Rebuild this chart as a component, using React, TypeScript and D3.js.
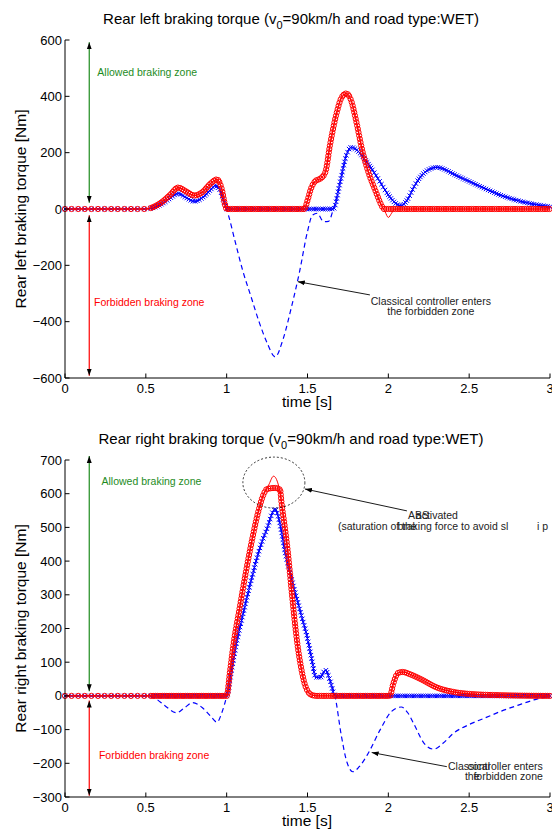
import React, { useRef, useEffect } from 'react';
import * as d3 from 'd3';

type Pt = [number, number];

// ---- rear left (top panel) ----
const classicalLeft: Pt[] = [
  [0, 0], [0.5, 0], [0.55, 5], [0.6, 18], [0.65, 38], [0.7, 55], [0.75, 40], [0.8, 27], [0.85, 40],
  [0.9, 68], [0.93, 83], [0.96, 65], [0.99, 15], [1.01, -20], [1.05, -110], [1.1, -220], [1.15, -310],
  [1.2, -400], [1.25, -475], [1.3, -525], [1.35, -460], [1.4, -350], [1.45, -225], [1.5, -80],
  [1.53, -22], [1.56, -15], [1.6, -45], [1.63, -44], [1.66, 0], [1.7, 90], [1.74, 190], [1.77, 219],
  [1.8, 212], [1.85, 180], [1.9, 140], [1.95, 95], [2.0, 50], [2.05, 18], [2.08, 12], [2.12, 35],
  [2.16, 80], [2.2, 115], [2.25, 140], [2.3, 148], [2.35, 140], [2.4, 125], [2.5, 98], [2.6, 72],
  [2.7, 48], [2.8, 30], [2.9, 17], [3.0, 8],
];
const blueLeft: Pt[] = [
  [0, 0], [0.5, 0], [0.55, 5], [0.6, 18], [0.65, 38], [0.7, 55], [0.75, 40], [0.8, 27], [0.85, 40],
  [0.9, 68], [0.93, 83], [0.96, 65], [0.99, 15], [1.0, 0], [1.66, 0], [1.7, 90], [1.74, 190], [1.77, 219],
  [1.8, 212], [1.85, 180], [1.9, 140], [1.95, 95], [2.0, 50], [2.05, 18], [2.08, 12], [2.12, 35],
  [2.16, 80], [2.2, 115], [2.25, 140], [2.3, 148], [2.35, 140], [2.4, 125], [2.5, 98], [2.6, 72],
  [2.7, 48], [2.8, 30], [2.9, 17], [3.0, 8],
];
const redLineLeft: Pt[] = [
  [0, 0], [0.5, 0], [0.55, 8], [0.6, 25], [0.65, 50], [0.7, 76], [0.75, 62], [0.8, 48], [0.85, 60],
  [0.9, 90], [0.94, 105], [0.97, 70], [0.99, 15], [1.0, 0], [1.48, 0], [1.5, 30], [1.52, 70], [1.55, 100],
  [1.58, 108], [1.61, 130], [1.64, 230], [1.68, 340], [1.71, 395], [1.74, 410], [1.77, 385], [1.8, 315],
  [1.84, 205], [1.88, 125], [1.92, 65], [1.96, 10], [1.98, -10], [2.0, -30], [2.02, -15], [2.04, 0], [3.0, 0],
];
const redMarkLeft: Pt[] = [
  [0, 0], [0.5, 0], [0.55, 8], [0.6, 25], [0.65, 50], [0.7, 76], [0.75, 62], [0.8, 48], [0.85, 60],
  [0.9, 90], [0.94, 105], [0.97, 70], [0.99, 15], [1.0, 0], [1.48, 0], [1.5, 30], [1.52, 70], [1.55, 100],
  [1.58, 108], [1.61, 130], [1.64, 230], [1.68, 340], [1.71, 395], [1.74, 410], [1.77, 385], [1.8, 315],
  [1.84, 205], [1.88, 125], [1.92, 65], [1.96, 10], [1.97, 0], [3.0, 0],
];

// ---- rear right (bottom panel) ----
const classicalRight: Pt[] = [
  [0, 0], [0.5, 0], [0.56, -8], [0.62, -30], [0.69, -50], [0.74, -35], [0.79, -20], [0.85, -35],
  [0.9, -60], [0.94, -78], [0.97, -50], [1.0, 0], [1.03, 75], [1.06, 155], [1.1, 240], [1.15, 340],
  [1.2, 430], [1.25, 497], [1.3, 554], [1.33, 510], [1.36, 430], [1.4, 350], [1.45, 260], [1.5, 170],
  [1.53, 100], [1.55, 55], [1.58, 55], [1.61, 77], [1.64, 45], [1.67, 0], [1.71, -120], [1.74, -190],
  [1.78, -225], [1.82, -210], [1.87, -175], [1.95, -100], [2.02, -46], [2.08, -33], [2.12, -50],
  [2.16, -85], [2.22, -140], [2.28, -158], [2.34, -140], [2.4, -112], [2.5, -85], [2.6, -65],
  [2.7, -45], [2.8, -28], [2.9, -12], [3.0, 0],
];
const blueRight: Pt[] = [
  [0, 0], [1.0, 0], [1.03, 75], [1.06, 155], [1.1, 240], [1.15, 340], [1.2, 430], [1.25, 497],
  [1.3, 554], [1.33, 510], [1.36, 430], [1.4, 350], [1.45, 260], [1.5, 170], [1.53, 100], [1.55, 55],
  [1.58, 55], [1.61, 77], [1.64, 45], [1.67, 0], [3.0, 0],
];
const redLineRight: Pt[] = [
  [0, 0], [1.0, 0], [1.02, 70], [1.04, 146], [1.08, 260], [1.12, 370], [1.16, 470], [1.2, 555],
  [1.23, 600], [1.26, 626], [1.29, 652], [1.32, 626], [1.34, 570], [1.36, 500], [1.38, 420], [1.4, 320],
  [1.42, 225], [1.44, 145], [1.46, 85], [1.48, 40], [1.5, 15], [1.53, 2], [1.56, 0], [2.01, 0],
  [2.03, 35], [2.06, 68], [2.09, 71], [2.13, 65], [2.2, 50], [2.3, 25], [2.4, 12], [2.5, 6], [2.7, 2], [3.0, 0],
];
const redMarkRight: Pt[] = [
  [0, 0], [1.0, 0], [1.02, 70], [1.04, 146], [1.08, 260], [1.12, 370], [1.16, 470], [1.2, 555],
  [1.23, 600], [1.25, 614], [1.3, 617], [1.33, 612], [1.34, 570], [1.36, 500], [1.38, 420], [1.4, 320],
  [1.42, 225], [1.44, 145], [1.46, 85], [1.48, 40], [1.5, 15], [1.53, 2], [1.56, 0], [2.01, 0],
  [2.03, 35], [2.06, 68], [2.09, 71], [2.13, 65], [2.2, 50], [2.3, 25], [2.4, 12], [2.5, 6], [2.7, 2], [3.0, 0],
];

const xTicks = [0, 0.5, 1, 1.5, 2, 2.5, 3];
const yTicksLeft = [-600, -400, -200, 0, 200, 400, 600];
const yTicksRight = [-300, -200, -100, 0, 100, 200, 300, 400, 500, 600, 700];

const FONT = '"Liberation Sans", Arial, Helvetica, sans-serif';
const RED = '#ff0000';
const BLUE = '#0000ff';
const GREEN = '#1e8c1e';

interface Panel {
  top: number;
  bottom: number;
  domain: [number, number];
  yTicks: number[];
  wheel: string;
  yLabel: string;
  classical: Pt[];
  blue: Pt[];
  redLine: Pt[];
  redMark: Pt[];
  greenZone: [number, number];
  redZone: [number, number];
  allowedAt: Pt;
  forbiddenAt: Pt;
}

const panels: Panel[] = [
  {
    top: 40, bottom: 378, domain: [-600, 600], yTicks: yTicksLeft, wheel: 'left',
    yLabel: 'Rear left braking torque [Nm]',
    classical: classicalLeft, blue: blueLeft, redLine: redLineLeft, redMark: redMarkLeft,
    greenZone: [592, 22], redZone: [-22, -592], allowedAt: [0.2, 472], forbiddenAt: [0.18, -346],
  },
  {
    top: 460, bottom: 797, domain: [-300, 700], yTicks: yTicksRight, wheel: 'right',
    yLabel: 'Rear right braking torque [Nm]',
    classical: classicalRight, blue: blueRight, redLine: redLineRight, redMark: redMarkRight,
    greenZone: [712, 14], redZone: [-14, -296], allowedAt: [0.226, 625], forbiddenAt: [0.21, -188],
  },
];

const App: React.FC = () => {
  const svgRef = useRef<SVGSVGElement | null>(null);

  useEffect(() => {
    const svg = d3.select(svgRef.current);
    svg.selectAll('*').remove();

    const defs = svg.append('defs');
    defs.append('marker')
      .attr('id', 'head')
      .attr('viewBox', '0 0 10 10')
      .attr('refX', 10).attr('refY', 5)
      .attr('markerWidth', 7).attr('markerHeight', 7)
      .attr('markerUnits', 'userSpaceOnUse')
      .attr('orient', 'auto-start-reverse')
      .append('path')
      .attr('d', 'M0,1.5 L10,5 L0,8.5 Z')
      .attr('fill', '#000');

    panels.forEach((p, idx) => {
      const g = svg.append('g');
      const x = d3.scaleLinear().domain([0, 3]).range([65, 550]);
      const y = d3.scaleLinear().domain(p.domain).range([p.bottom, p.top]);
      const x05 = x(0.5);

      // title
      const title = g.append('text')
        .attr('x', 291).attr('y', p.top - 16)
        .attr('text-anchor', 'middle')
        .style('font-family', FONT).style('font-size', '15px');
      title.append('tspan').text(`Rear ${p.wheel} braking torque (v`);
      title.append('tspan').attr('dy', 5).style('font-size', '11px').text('0');
      title.append('tspan').attr('dy', -5).text('=90km/h and road type:WET)');

      const line = d3.line<Pt>().x(d => x(d[0])).y(d => y(d[1])).curve(d3.curveMonotoneX);

      // classical controller (dashed)
      g.append('path')
        .attr('d', line(p.classical))
        .attr('fill', 'none').attr('stroke', BLUE).attr('stroke-width', 1.2)
        .attr('stroke-dasharray', '5,3.5');

      // marker positions along the drawn curve: sparse early, denser later,
      // a bit looser where the curve is steep
      const along = (path: SVGPathElement) => {
        const total = path.getTotalLength();
        const pts: Pt[] = [];
        let l = 0;
        while (l <= total) {
          const q = path.getPointAtLength(l);
          const n = path.getPointAtLength(Math.min(total, l + 1));
          pts.push([q.x, q.y]);
          const steep = Math.abs(n.y - q.y) > Math.abs(n.x - q.x) * 1.5;
          l += q.x < x05 ? 6.6 : steep ? 3.4 : 2.3;
        }
        return pts;
      };

      // blue x series
      const bluePath = g.append('path')
        .attr('d', line(p.blue))
        .attr('fill', 'none').attr('stroke', BLUE).attr('stroke-width', 1);
      const bluePts = along(bluePath.node() as SVGPathElement);
      g.append('g').selectAll('path').data(bluePts).enter().append('path')
        .attr('d', d => `M${d[0] - 2.2},${d[1] - 2.2}L${d[0] + 2.2},${d[1] + 2.2}M${d[0] - 2.2},${d[1] + 2.2}L${d[0] + 2.2},${d[1] - 2.2}`)
        .attr('stroke', BLUE).attr('stroke-width', 1);

      // red thin line
      g.append('path')
        .attr('d', line(p.redLine))
        .attr('fill', 'none').attr('stroke', RED).attr('stroke-width', 1);

      // red circle series
      const redPath = g.append('path')
        .attr('d', line(p.redMark))
        .attr('fill', 'none').attr('stroke', RED).attr('stroke-width', 1);
      const redPts = along(redPath.node() as SVGPathElement);
      g.append('g').selectAll('circle').data(redPts).enter().append('circle')
        .attr('cx', d => d[0]).attr('cy', d => d[1]).attr('r', 2.6)
        .attr('fill', 'none').attr('stroke', RED).attr('stroke-width', 1);

      // axes
      g.append('line').attr('x1', 65).attr('x2', 65).attr('y1', p.top).attr('y2', p.bottom)
        .attr('stroke', '#000').attr('stroke-width', 1);
      g.append('line').attr('x1', 65).attr('x2', 550).attr('y1', p.bottom).attr('y2', p.bottom)
        .attr('stroke', '#000').attr('stroke-width', 1);
      xTicks.forEach(t => {
        g.append('line').attr('x1', x(t)).attr('x2', x(t)).attr('y1', p.bottom).attr('y2', p.bottom - 4.5)
          .attr('stroke', '#000');
        g.append('text').attr('x', x(t)).attr('y', p.bottom + 15).attr('text-anchor', 'middle')
          .style('font-family', FONT).style('font-size', '13px').text(String(t));
      });
      p.yTicks.forEach(v => {
        g.append('line').attr('x1', 65).attr('x2', 69.5).attr('y1', y(v)).attr('y2', y(v))
          .attr('stroke', '#000');
        g.append('text').attr('x', 62).attr('y', y(v)).attr('dy', '0.35em').attr('text-anchor', 'end')
          .style('font-family', FONT).style('font-size', '13px')
          .text(v < 0 ? `\u2212${Math.abs(v)}` : String(v));
      });
      g.append('text').attr('x', 307).attr('y', p.bottom + 29).attr('text-anchor', 'middle')
        .style('font-family', FONT).style('font-size', '15.5px').text('time [s]');
      g.append('text')
        .attr('transform', `translate(26,${(p.top + p.bottom) / 2}) rotate(-90)`)
        .attr('text-anchor', 'middle')
        .style('font-family', FONT).style('font-size', '15.5px').text(p.yLabel);

      // zone arrows
      const zx = x(0.15);
      g.append('line').attr('x1', zx).attr('x2', zx).attr('y1', y(p.greenZone[0])).attr('y2', y(p.greenZone[1]))
        .attr('stroke', GREEN).attr('stroke-width', 1.2)
        .attr('marker-start', 'url(#head)').attr('marker-end', 'url(#head)');
      g.append('line').attr('x1', zx).attr('x2', zx).attr('y1', y(p.redZone[0])).attr('y2', y(p.redZone[1]))
        .attr('stroke', RED).attr('stroke-width', 1.2)
        .attr('marker-start', 'url(#head)').attr('marker-end', 'url(#head)');
      g.append('text').attr('x', x(p.allowedAt[0])).attr('y', y(p.allowedAt[1]))
        .style('font-family', FONT).style('font-size', '10.5px').attr('fill', GREEN).text('Allowed braking zone');
      g.append('text').attr('x', x(p.forbiddenAt[0])).attr('y', y(p.forbiddenAt[1]))
        .style('font-family', FONT).style('font-size', '10.5px').attr('fill', RED).text('Forbidden braking zone');

      const arrow = (from: Pt, to: Pt) => {
        g.append('line').attr('x1', x(from[0])).attr('y1', y(from[1])).attr('x2', x(to[0])).attr('y2', y(to[1]))
          .attr('stroke', '#000').attr('stroke-width', 0.9).attr('marker-end', 'url(#head)');
      };
      const label = (t: number, v: number, s: string, anchor = 'start') => {
        g.append('text').attr('x', x(t)).attr('y', y(v)).attr('text-anchor', anchor)
          .style('font-family', FONT).style('font-size', '10.5px').attr('fill', '#222').text(s);
      };

      if (idx === 0) {
        arrow([1.886, -305], [1.44, -258]);
        label(2.263, -340, 'Classical controller enters', 'middle');
        label(2.263, -378, 'the forbidden zone', 'middle');
      } else {
        g.append('ellipse').attr('cx', x(1.292)).attr('cy', y(633)).attr('rx', 31).attr('ry', 25.5)
          .attr('fill', 'none').attr('stroke', '#000').attr('stroke-width', 0.8).attr('stroke-dasharray', '2,2');
        arrow([2.115, 549], [1.484, 614]);
        label(2.121, 525, 'ABS');
        label(2.17, 525, 'activated');
        label(1.688, 491, '(saturation of the');
        label(2.056, 491, 'braking force to avoid sl');
        label(2.92, 491, 'i p');
        arrow([2.362, -210], [1.897, -168]);
        label(2.369, -221, 'Classical');
        label(2.956, -221, 'controller enters', 'end');
        label(2.474, -251, 'the');
        label(2.956, -251, 'forbidden zone', 'end');
      }
    });
  }, []);

  return (
    <svg ref={svgRef} width={552} height={832}
      style={{ position: 'absolute', left: 0, top: 0, background: '#fff' }} />
  );
};

export default App;
